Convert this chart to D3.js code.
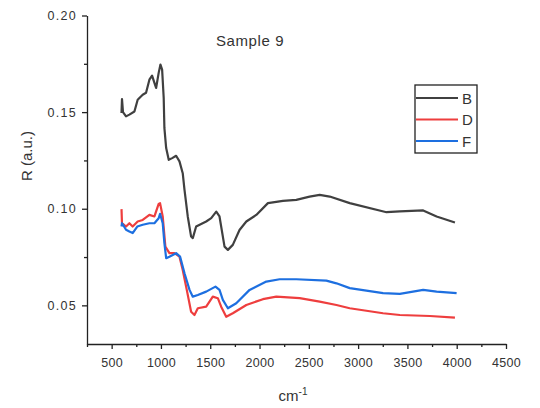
<!DOCTYPE html>
<html>
<head>
<meta charset="utf-8">
<script src="https://cdn.jsdelivr.net/npm/d3@7"></script>
<style>
  body { margin: 0; background: #fff; }
  text { font-family: "Liberation Sans", Arial, sans-serif; fill: #333; }
</style>
</head>
<body>
<script>
// wavenumber (cm-1) and reflectance
const bX = [600, 605, 615, 646, 680, 731, 764, 815, 849, 883, 910, 934, 951, 977, 995, 1012, 1028, 1035, 1053, 1079, 1114, 1154, 1188, 1221, 1239, 1272, 1306, 1323, 1357, 1459, 1510, 1561, 1594, 1645, 1679, 1729, 1797, 1866, 1967, 2085, 2237, 2373, 2508, 2610, 2712, 2915, 3288, 3423, 3660, 3796, 3982]
const bY = [0.1495, 0.1568, 0.150, 0.1478, 0.1487, 0.1503, 0.1564, 0.159, 0.160, 0.1668, 0.1689, 0.1651, 0.1625, 0.1703, 0.1746, 0.172, 0.1573, 0.1418, 0.1314, 0.1253, 0.1262, 0.1274, 0.1245, 0.1184, 0.1098, 0.096, 0.0856, 0.0848, 0.0908, 0.0934, 0.0951, 0.0985, 0.096, 0.0804, 0.0787, 0.0813, 0.089, 0.0934, 0.0968, 0.1029, 0.1041, 0.1046, 0.1063, 0.1072, 0.1063, 0.1029, 0.0982, 0.0986, 0.0991, 0.096, 0.0929]

const dX = [600, 605, 646, 680, 713, 764, 815, 883, 934, 977, 991, 1018, 1045, 1086, 1137, 1188, 1221, 1262, 1306, 1340, 1374, 1459, 1526, 1577, 1611, 1662, 1729, 1866, 2034, 2170, 2407, 2610, 2780, 2915, 3253, 3423, 3728, 3982]
const dY = [0.0998, 0.0925, 0.0908, 0.0925, 0.0908, 0.0934, 0.0942, 0.0968, 0.096, 0.1025, 0.1029, 0.096, 0.0804, 0.077, 0.077, 0.0752, 0.0683, 0.058, 0.0467, 0.045, 0.0485, 0.0493, 0.0545, 0.0537, 0.0493, 0.0441, 0.0459, 0.0502, 0.0532, 0.0545, 0.0537, 0.0519, 0.0502, 0.0485, 0.0459, 0.045, 0.0445, 0.0436]

const fX = [600, 605, 646, 680, 713, 760, 815, 883, 934, 977, 991, 1018, 1035, 1053, 1086, 1154, 1194, 1239, 1290, 1323, 1374, 1459, 1553, 1594, 1628, 1679, 1764, 1899, 2069, 2204, 2373, 2678, 2780, 2915, 3253, 3423, 3660, 3796, 3999]
const fY = [0.0908, 0.0925, 0.0891, 0.0882, 0.0874, 0.0908, 0.0917, 0.0925, 0.0925, 0.0951, 0.0974, 0.0925, 0.0822, 0.0744, 0.0752, 0.077, 0.0752, 0.0666, 0.058, 0.0545, 0.0554, 0.0571, 0.0597, 0.058, 0.0528, 0.0485, 0.0511, 0.058, 0.0623, 0.0635, 0.0635, 0.0628, 0.0614, 0.0589, 0.0563, 0.0559, 0.058, 0.0571, 0.0563]

const seriesNames = ['B', 'D', 'F']
const seriesColors = ['#404040', '#ee3e3e', '#1d6fe0']
const xTicks = [500, 1000, 1500, 2000, 2500, 3000, 3500, 4000, 4500]
const yTicks = [0.05, 0.10, 0.15, 0.20]

const width = 540, height = 408

const svg = d3.select('body').append('svg')
  .attr('width', width)
  .attr('height', height)

const x = d3.scaleLinear().domain([250, 4500]).range([87, 506])
const y = d3.scaleLinear().domain([0.03, 0.20]).range([344, 15.5])

const series = [[bX, bY], [dX, dY], [fX, fY]].map(([xs, ys], i) => ({
  name: seriesNames[i],
  color: seriesColors[i],
  points: xs.map((v, j) => [v, ys[j]])
}))

const line = d3.line().x(d => x(d[0])).y(d => y(d[1]))

// curves, B first so that D and F sit on top
svg.append('g').selectAll('path')
  .data(series)
  .join('path')
  .attr('fill', 'none')
  .attr('stroke', d => d.color)
  .attr('stroke-width', 2.2)
  .attr('stroke-linejoin', 'round')
  .attr('d', d => line(d.points))

// x axis with minor ticks in between
const xMinor = d3.range(250, 4501, 250).filter(v => v % 500 != 0)
svg.append('g')
  .attr('transform', `translate(0,${y(0.03)})`)
  .call(d3.axisBottom(x).tickValues(xMinor).tickSize(3).tickFormat(''))
  .call(g => g.select('.domain').remove())
const xAxis = svg.append('g')
  .attr('transform', `translate(0,${y(0.03)})`)
  .call(d3.axisBottom(x).tickValues(xTicks).tickSize(5).tickSizeOuter(0).tickPadding(9).tickFormat(d3.format('d')))
xAxis.selectAll('text').attr('font-size', 12.5).attr('letter-spacing', '0.3px')

// y axis
svg.append('g')
  .attr('transform', `translate(${x(250)},0)`)
  .call(d3.axisLeft(y).tickValues([0.075, 0.125, 0.175]).tickSize(3).tickFormat(''))
  .call(g => g.select('.domain').remove())
const yAxis = svg.append('g')
  .attr('transform', `translate(${x(250)},0)`)
  .call(d3.axisLeft(y).tickValues(yTicks).tickSize(5).tickSizeOuter(0).tickPadding(5).tickFormat(d3.format('.2f')))
yAxis.selectAll('text').attr('font-size', 12.5).attr('letter-spacing', '1.3px')

svg.selectAll('.domain, .tick line').attr('stroke', '#222').attr('stroke-width', 1.3)

// labels
svg.append('text')
  .attr('x', 250).attr('y', 46)
  .attr('text-anchor', 'middle')
  .attr('font-size', 15)
  .attr('letter-spacing', '0.6px')
  .text('Sample 9')

svg.append('text')
  .attr('transform', 'translate(32,156) rotate(-90)')
  .attr('text-anchor', 'middle')
  .attr('font-size', 15)
  .text('R (a.u.)')

const xl = svg.append('text')
  .attr('x', 293).attr('y', 401)
  .attr('text-anchor', 'middle')
  .attr('font-size', 15)
xl.append('tspan').text('cm')
xl.append('tspan').attr('font-size', 10).attr('dy', -6).text('-1')

// legend
const legend = svg.append('g').attr('transform', 'translate(415,85)')
legend.append('rect')
  .attr('width', 62).attr('height', 68)
  .attr('fill', '#fff').attr('stroke', '#222').attr('stroke-width', 1.3)
const item = legend.selectAll('g.item')
  .data(series)
  .join('g')
  .attr('class', 'item')
  .attr('transform', (d, i) => `translate(0,${13 + i * 21.5})`)
item.append('line')
  .attr('x1', 1).attr('x2', 43)
  .attr('stroke', d => d.color).attr('stroke-width', 2.2)
item.append('text')
  .attr('x', 47).attr('y', 5.5)
  .attr('font-size', 15)
  .text(d => d.name)
</script>
</body>
</html>
